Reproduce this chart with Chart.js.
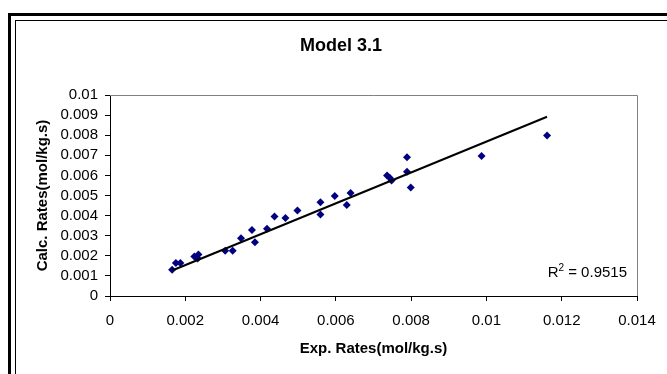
<!DOCTYPE html>
<html>
<head>
<meta charset="utf-8">
<script src="https://cdn.jsdelivr.net/npm/chart.js@4/dist/chart.umd.min.js"></script>
<style>
  html, body { margin: 0; padding: 0; background: #fff; overflow: hidden; }
  #wrap { width: 667px; height: 374px; }
</style>
</head>
<body>
<div id="wrap"><canvas id="rateChart" width="667" height="374"></canvas></div>
<script>
const expRates = [0.00165, 0.00175, 0.00187, 0.00224, 0.00235, 0.00233, 0.00306, 0.00326,
  0.00348, 0.00377, 0.00385, 0.00417, 0.00437, 0.00466, 0.00498, 0.00559, 0.00559,
  0.00597, 0.00629, 0.00639, 0.00736, 0.00743, 0.00748, 0.00789, 0.00789, 0.00799,
  0.00987, 0.01161];
const calcRates = [0.00130, 0.00164, 0.00164, 0.00197, 0.00207, 0.00187, 0.00225, 0.00225,
  0.00287, 0.00328, 0.00267, 0.00335, 0.00395, 0.00388, 0.00425, 0.00467, 0.00405,
  0.00497, 0.00453, 0.00512, 0.00600, 0.00588, 0.00575, 0.00690, 0.00618, 0.00540,
  0.00697, 0.00798];

const xTickLabels = ["0", "0.002", "0.004", "0.006", "0.008", "0.01", "0.012", "0.014"];
const yTickLabels = ["0", "0.001", "0.002", "0.003", "0.004", "0.005", "0.006", "0.007", "0.008", "0.009", "0.01"];
const r2Value = "0.9515";

const FONT = "'Liberation Sans', Arial, sans-serif";

// excel trendline with intercept set to 0
function slopeThroughOrigin(xs, ys) {
  let sxx = 0, sxy = 0;
  for (let i = 0; i < xs.length; i++) {
    sxx += xs[i] * xs[i];
    sxy += xs[i] * ys[i];
  }
  return sxy / sxx;
}

const slope = slopeThroughOrigin(expRates, calcRates);
const xMin = Math.min(...expRates);
const xMax = Math.max(...expRates);
const trendPoints = [
  { x: xMin, y: slope * xMin },
  { x: xMax, y: slope * xMax }
];

const points = expRates.map((x, i) => ({ x: x, y: calcRates[i] }));

const framePlugin = {
  id: "frame",
  beforeDraw(chart) {
    const ctx = chart.ctx;
    ctx.save();
    ctx.fillStyle = "#fff";
    ctx.fillRect(0, 0, chart.width, chart.height);
    ctx.strokeStyle = "#000";
    ctx.lineWidth = 3;
    ctx.strokeRect(9.5, 14.5, 700, 400);
    ctx.lineWidth = 1;
    ctx.strokeRect(15.5, 20.5, 700, 400);
    ctx.restore();
  },
  beforeDatasetsDraw(chart) {
    const { ctx, chartArea: ca } = chart;
    ctx.save();
    ctx.strokeStyle = "#808080";
    ctx.lineWidth = 1;
    ctx.beginPath();
    ctx.moveTo(ca.left, Math.round(ca.top) + 0.5);
    ctx.lineTo(Math.round(ca.right) + 0.5, Math.round(ca.top) + 0.5);
    ctx.lineTo(Math.round(ca.right) + 0.5, ca.bottom);
    ctx.stroke();
    ctx.restore();
  },
  afterDatasetsDraw(chart) {
    const { ctx, chartArea: ca } = chart;
    ctx.save();
    ctx.fillStyle = "#000";
    ctx.textBaseline = "alphabetic";
    ctx.textAlign = "left";
    const right = ca.right - 10;
    const base = ca.bottom - 19;
    ctx.font = "15px " + FONT;
    const rest = " = " + r2Value;
    const wRest = ctx.measureText(rest).width;
    const wR = ctx.measureText("R").width;
    ctx.font = "10px " + FONT;
    const wSup = ctx.measureText("2").width;
    let x = right - wRest - wSup - wR;
    ctx.font = "15px " + FONT;
    ctx.fillText("R", x, base);
    ctx.font = "10px " + FONT;
    ctx.fillText("2", x + wR, base - 6);
    ctx.font = "15px " + FONT;
    ctx.fillText(rest, x + wR + wSup, base);
    ctx.restore();
  }
};

const ctx = document.getElementById("rateChart").getContext("2d");
const rateChart = new Chart(ctx, {
  type: "scatter",
  data: {
    datasets: [
      {
        label: "Trend",
        data: trendPoints,
        type: "line",
        showLine: true,
        borderColor: "#000",
        borderWidth: 2,
        pointRadius: 0,
        fill: false,
        order: 0
      },
      {
        label: "Model 3.1",
        data: points,
        pointStyle: "rectRot",
        pointRadius: 4,
        backgroundColor: "#000080",
        borderColor: "#000080",
        borderWidth: 0,
        order: 1
      }
    ]
  },
  options: {
    responsive: false,
    animation: false,
    devicePixelRatio: 1,
    layout: { padding: { left: 15, right: 0, top: 0, bottom: 0 } },
    plugins: {
      legend: { display: false },
      tooltip: { enabled: false },
      title: {
        display: true,
        text: "Model 3.1",
        color: "#000",
        font: { family: FONT, size: 18, weight: "bold", lineHeight: 1.2 },
        padding: { top: 35, bottom: 38.4 }
      }
    },
    scales: {
      x: {
        type: "linear",
        min: 0,
        max: 0.014,
        ticks: {
          stepSize: 0.002,
          color: "#000",
          padding: 11,
          maxRotation: 0,
          autoSkip: false,
          font: { family: FONT, size: 15 },
          callback: (v, i) => xTickLabels[i]
        },
        grid: { drawOnChartArea: false, drawTicks: true, tickLength: 5, color: "#000" },
        border: { display: true, color: "#000", width: 1 },
        title: {
          display: true,
          text: "Exp. Rates(mol/kg.s)",
          color: "#000",
          font: { family: FONT, size: 15, weight: "bold", lineHeight: 1.2 },
          padding: { top: 0, bottom: 16 }
        },
        afterFit(scale) {
          scale.height = 78;
          scale.paddingRight = 30;
        }
      },
      y: {
        type: "linear",
        min: 0,
        max: 0.01,
        ticks: {
          stepSize: 0.001,
          color: "#000",
          padding: 7,
          autoSkip: false,
          font: { family: FONT, size: 15 },
          callback: (v, i) => yTickLabels[i]
        },
        grid: { drawOnChartArea: false, drawTicks: true, tickLength: 5, color: "#000" },
        border: { display: true, color: "#000", width: 1 },
        title: {
          display: true,
          text: "Calc. Rates(mol/kg.s)",
          color: "#000",
          font: { family: FONT, size: 15, weight: "bold", lineHeight: 1.2 },
          padding: { top: 19, bottom: 0 }
        },
        afterFit(scale) {
          scale.width = 95;
        }
      }
    }
  },
  plugins: [framePlugin]
});
</script>
</body>
</html>
